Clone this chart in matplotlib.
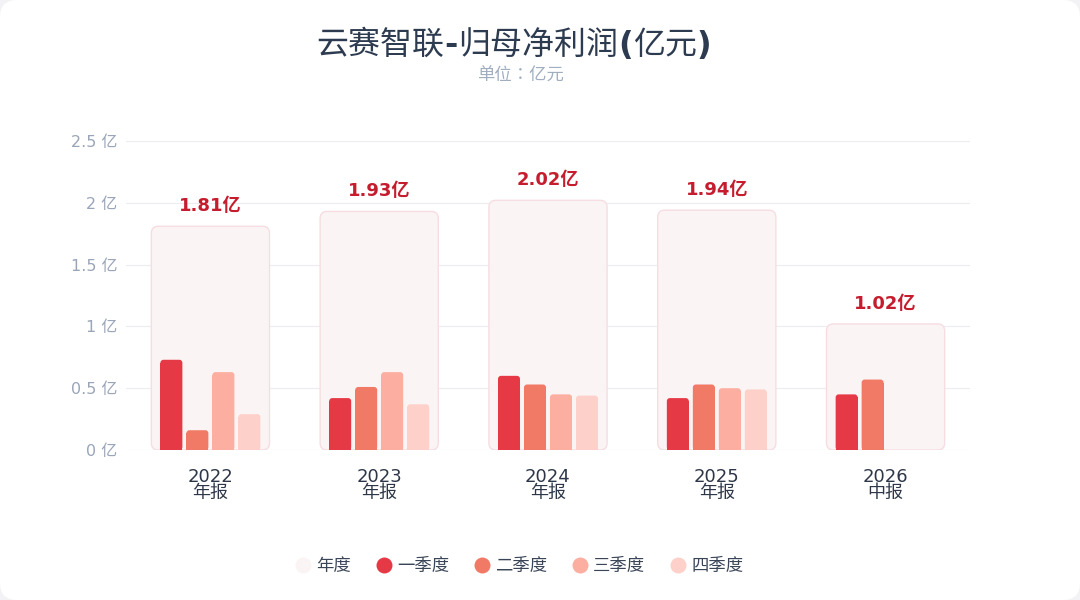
import matplotlib.pyplot as plt
from matplotlib.patches import FancyBboxPatch, Rectangle
from matplotlib.lines import Line2D

plt.rcParams['font.family'] = ['DejaVu Sans', 'Noto Sans CJK SC']

categories = ["2022\n年报", "2023\n年报", "2024\n年报", "2025\n年报", "2026\n中报"]
annual = [1.81, 1.93, 2.02, 1.94, 1.02]
q1 = [0.73, 0.42, 0.60, 0.42, 0.45]
q2 = [0.16, 0.51, 0.53, 0.53, 0.57]
q3 = [0.63, 0.63, 0.45, 0.50, None]
q4 = [0.29, 0.37, 0.44, 0.49, None]
series_names = ["一季度", "二季度", "三季度", "四季度"]
yticks = [0, 0.5, 1, 1.5, 2, 2.5]
title_parts = [("云赛智联", False), ("-", True), ("归母净利润", False), ("(", True),
               ("亿元", False), (")", True)]
subtitle = "单位：亿元"

colors = ["#e63946", "#f07a66", "#fcaea1", "#fdd1ca"]
box_face = "#fbf4f5"
box_edge = "#f6dde2"
W, H = 1080, 600

fig = plt.figure(figsize=(10.8, 6), dpi=100)
fig.patch.set_facecolor("#f3f3f5")
card = FancyBboxPatch((0, 0), 1, 1, boxstyle="round,pad=0,rounding_size=0.016",
                      transform=fig.transFigure, facecolor="white", edgecolor="none",
                      mutation_aspect=W / H, zorder=-10)
fig.patches.append(card)

ax = fig.add_axes([126 / W, 1 - 450 / H, (970 - 126) / W, (450 - 141) / H])
ax.set_facecolor("none")
ax.set_xlim(-0.5, len(categories) - 0.5)
ax.set_ylim(0, 2.5)

# aspect so rounded corners stay circular
px_x = ax.transData.transform((1, 0))[0] - ax.transData.transform((0, 0))[0]
px_y = ax.transData.transform((0, 1))[1] - ax.transData.transform((0, 0))[1]
aspect = px_x / px_y


def rounded_bar(x0, w, h, r_px, face, edge="none", lw=0, z=2, square_bottom=True):
    r = r_px / px_x
    ax.add_patch(FancyBboxPatch((x0, 0), w, h, boxstyle=f"round,pad=0,rounding_size={r}",
                                mutation_aspect=aspect, facecolor=face, edgecolor=edge,
                                linewidth=lw, zorder=z))
    if square_bottom and edge == "none":
        cut = max(h - r * aspect, 0)
        ax.add_patch(Rectangle((x0, 0), w, cut, facecolor=face, edgecolor="none", zorder=z))


box_w = 0.70
bar_w = 0.13
step = 0.154
quarters = [q1, q2, q3, q4]

for i, total in enumerate(annual):
    rounded_bar(i - box_w / 2, box_w, total, 7, box_face, edge=box_edge, lw=1.0, z=1)
    ax.text(i, total + 0.09, f"{total:.2f}亿", ha="center", va="bottom", fontsize=13,
            fontweight="bold", color="#c51d2e", zorder=5)
    for k, vals in enumerate(quarters):
        v = vals[i]
        if v is None:
            continue
        xc = i + (k - 1.5) * step
        rounded_bar(xc - bar_w / 2, bar_w, v, 3, colors[k], z=3)

ax.set_yticks(yticks)
ax.set_yticklabels([f"{t:g} 亿" for t in yticks], color="#9aa5b8", fontsize=11.5)
ax.set_xticks(range(len(categories)))
ax.set_xticklabels(categories, color="#2d3748", fontsize=13, linespacing=0.85)
ax.tick_params(axis="x", length=0, pad=13)
ax.tick_params(axis="y", length=0, pad=6)
ax.grid(axis="y", color="#ececf1", linewidth=0.8, zorder=0)
ax.set_axisbelow(True)
for s in ax.spines.values():
    s.set_visible(False)

# title: CJK regular, punctuation bold, laid out piece by piece
renderer = fig.canvas.get_renderer()
pieces = []
for txt, bold in title_parts:
    t = fig.text(0, 0, txt, fontsize=23, color="#2d3b50", va="baseline", ha="left",
                 fontweight="bold" if bold else "normal",
                 family=["DejaVu Sans"] if bold else ["Noto Sans CJK SC"])
    pieces.append(t)
widths = [p.get_window_extent(renderer).width for p in pieces]
x = 514 - sum(widths) / 2
for p, w in zip(pieces, widths):
    p.set_position((x / W, 1 - 54 / H))
    x += w

fig.text(520 / W, 1 - 76 / H, subtitle, ha="center", va="center", fontsize=12.5,
         color="#a0aec0", family=["Noto Sans CJK TC", "Noto Sans CJK SC"])

handles = [Line2D([], [], marker="o", linestyle="none", markersize=11.5,
                  markerfacecolor=box_face, markeredgecolor="none", label="年度")]
for name, c in zip(series_names, colors):
    handles.append(Line2D([], [], marker="o", linestyle="none", markersize=11.5,
                          markerfacecolor=c, markeredgecolor="none", label=name))
fig.legend(handles=handles, loc="center", bbox_to_anchor=(520 / W, 1 - 566 / H), ncol=5,
           frameon=False, fontsize=12.5, handlelength=0.8, handletextpad=0.35,
           columnspacing=1.5, labelcolor="#3a4558")

fig.savefig("out.png", dpi=100, facecolor=fig.get_facecolor())
